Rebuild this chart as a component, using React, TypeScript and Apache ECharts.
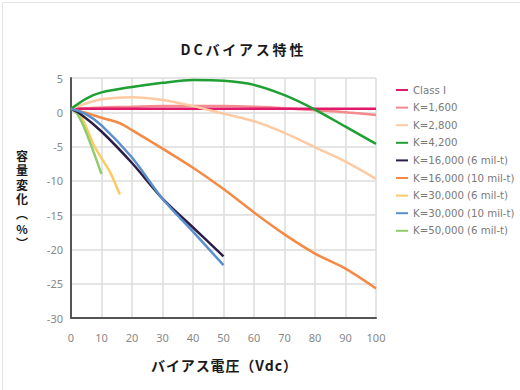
import React, { useEffect, useRef } from "react";
import * as echarts from "echarts";

const seriesNames = [
  "Class I",
  "K=1,600",
  "K=2,800",
  "K=4,200",
  "K=16,000 (6 mil-t)",
  "K=16,000 (10 mil-t)",
  "K=30,000 (6 mil-t)",
  "K=30,000 (10 mil-t)",
  "K=50,000 (6 mil-t)",
];

const seriesColors = [
  "#e2196b",
  "#f38a8e",
  "#fdcaa2",
  "#1fa033",
  "#2b1d47",
  "#f58a45",
  "#fdc964",
  "#5b8fcb",
  "#8fcd6a",
];

const voltsFull = [0, 5, 10, 20, 30, 40, 50, 60, 70, 80, 90, 100];
const classI = [0.5, 0.5, 0.5, 0.5, 0.5, 0.5, 0.5, 0.5, 0.5, 0.5, 0.5, 0.5];
const k1600 = [0.5, 0.6, 0.7, 0.8, 0.9, 0.9, 0.9, 0.8, 0.6, 0.3, 0.0, -0.4];
const k2800 = [0.5, 1.3, 1.9, 2.2, 1.8, 0.9, -0.2, -1.3, -3.0, -5.1, -7.2, -9.7];
const k4200 = [0.5, 2.0, 2.9, 3.7, 4.3, 4.7, 4.6, 4.0, 2.5, 0.4, -2.1, -4.6];

const volts16k6 = [0, 3, 10, 20, 30, 40, 50];
const k16000t6 = [0.5, -0.2, -2.8, -7.4, -12.6, -16.8, -21.0];

const volts16k10 = [0, 5, 10, 16, 20, 30, 40, 50, 60, 70, 80, 90, 100];
const k16000t10 = [0.5, -0.1, -0.8, -1.6, -2.6, -5.3, -8.1, -11.2, -14.6, -17.8, -20.6, -22.8, -25.7];

const volts30k6 = [0, 3, 5, 7.5, 10, 13, 16];
const k30000t6 = [0.5, -0.4, -2.2, -4.8, -6.7, -8.9, -12.0];

const volts30k10 = [0, 4.6, 10, 20, 30, 40, 50];
const k30000t10 = [0.5, -0.2, -1.9, -6.6, -12.6, -17.4, -22.3];

const volts50k6 = [0, 2, 4, 7, 10];
const k50000t6 = [0.5, -0.2, -1.9, -5.3, -9.0];

const xTicks = [0, 10, 20, 30, 40, 50, 60, 70, 80, 90, 100];
const yTicks = [5, 0, -5, -10, -15, -20, -25, -30];

const titleText = "DCバイアス特性";
const xAxisTitle = "バイアス電圧（Vdc）";
const yAxisTitleChars = ["容", "量", "変", "化", "︵", "%", "︶"];

const seriesX = [voltsFull, voltsFull, voltsFull, voltsFull, volts16k6, volts16k10, volts30k6, volts30k10, volts50k6];
const seriesY = [classI, k1600, k2800, k4200, k16000t6, k16000t10, k30000t6, k30000t10, k50000t6];

const pair = (xs: number[], ys: number[]) => xs.map((x, i) => [x, ys[i]]);
const spaced = (s: string, sep: string) => Array.from(s).join(sep);

export default function App() {
  const ref = useRef<HTMLDivElement>(null);
  useEffect(() => {
    if (!ref.current) return;
    const chart = echarts.init(ref.current, null, { renderer: "svg" });
    const font = "'Noto Sans', sans-serif";
    const cjk = "'Noto Sans CJK JP', sans-serif";
    const drawOrder = [1, 0, 2, 3, 5, 6, 8, 4, 7];
    chart.setOption({
      animation: false,
      backgroundColor: "#ffffff",
      grid: { left: 71, right: 144, top: 78, bottom: 72 },
      legend: {
        orient: "vertical",
        left: 391,
        top: 78,
        icon: "rect",
        itemWidth: 12,
        itemHeight: 2,
        itemGap: 3.6,
        data: seriesNames,
        textStyle: {
          color: "#7a7a7a",
          fontSize: 10.2,
          lineHeight: 14,
          fontFamily: "'DejaVu Sans', sans-serif",
        },
      },
      xAxis: {
        type: "value",
        min: xTicks[0],
        max: xTicks[xTicks.length - 1],
        interval: 10,
        axisLine: { onZero: false, lineStyle: { color: "#555", width: 2 } },
        axisTick: { show: false },
        splitLine: { show: true, lineStyle: { color: "#dcdcdc", width: 1.5 } },
        axisLabel: { color: "#888", fontSize: 11, fontFamily: font, margin: 14 },
      },
      yAxis: {
        type: "value",
        min: yTicks[yTicks.length - 1],
        max: yTicks[0],
        interval: 5,
        axisLine: { show: true, lineStyle: { color: "#555", width: 2 } },
        axisTick: { show: false },
        splitLine: { show: true, lineStyle: { color: "#dcdcdc", width: 1.5 } },
        axisLabel: { color: "#888", fontSize: 11, fontFamily: font, margin: 8 },
      },
      graphic: [
        {
          type: "rect",
          left: 0,
          top: 0,
          shape: { x: 0.5, y: 0.5, width: 519, height: 389 },
          style: { fill: "none", stroke: "#e4e4e4", lineWidth: 1 },
          silent: true,
        },
        {
          type: "text",
          x: 242,
          y: 49,
          style: {
            text: spaced(titleText, "\u2009"),
            font: `bold 14px ${cjk}`,
            fill: "#1a1a1a",
            align: "center",
            verticalAlign: "middle",
          },
        },
        {
          type: "text",
          x: 224,
          y: 365,
          style: {
            text: spaced(xAxisTitle, "\u200a"),
            font: `bold 14px ${cjk}`,
            fill: "#1a1a1a",
            align: "center",
            verticalAlign: "middle",
          },
        },
        ...yAxisTitleChars.map((ch, i) => ({
          type: "text",
          x: 22,
          y: 155 + i * 14.6,
          style: {
            text: ch,
            font: `bold 12px ${cjk}`,
            fill: "#1a1a1a",
            align: "center",
            verticalAlign: "middle",
          },
        })),
      ],
      series: drawOrder.map((i) => ({
        name: seriesNames[i],
        type: "line",
        data: pair(seriesX[i], seriesY[i]),
        symbol: "none",
        smooth: 0.3,
        color: seriesColors[i],
        lineStyle: { color: seriesColors[i], width: 2.5 },
      })),
    });
    return () => chart.dispose();
  }, []);
  return (
    <div
      ref={ref}
      style={{ position: "fixed", left: 0, top: 0, width: 520, height: 390 }}
    />
  );
}
